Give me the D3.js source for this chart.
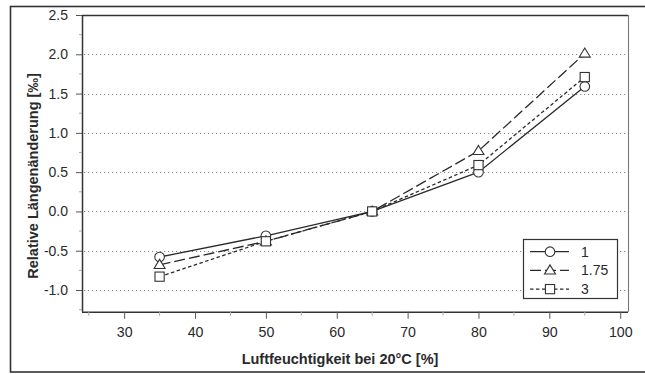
<!DOCTYPE html>
<html>
<head>
<meta charset="utf-8">
<script src="https://cdn.jsdelivr.net/npm/d3@7"></script>
<style>
  html, body { margin: 0; padding: 0; background: #fff; }
  svg { display: block; font-family: "Liberation Sans", Arial, sans-serif; }
</style>
</head>
<body>
<svg id="chart" width="645" height="374"></svg>
<script>
// Relative humidity at 20 °C [%]
const humidity = [35, 50, 65, 80, 95];

// Relative change in length [‰] per series
const series1 = [-0.58, -0.31, 0.0, 0.50, 1.59];
const series175 = [-0.68, -0.38, 0.0, 0.77, 2.01];
const series3 = [-0.83, -0.38, 0.0, 0.59, 1.71];

const seriesNames = ["1", "1.75", "3"];
const xTicks = [30, 40, 50, 60, 70, 80, 90, 100];
const yTicks = [-1.0, -0.5, 0.0, 0.5, 1.0, 1.5, 2.0, 2.5];
const yGrid = [-1.0, -0.5, 0.0, 0.5, 1.0, 1.5, 2.0];

const svg = d3.select("#chart");
const ink = "#2a2a2a";

// outer frame
svg.append("rect")
  .attr("x", 10.5).attr("y", 6.5)
  .attr("width", 660).attr("height", 365.5)
  .attr("fill", "none").attr("stroke", "#333").attr("stroke-width", 1.6);

const plot = { left: 82, right: 628, top: 15, bottom: 311.7 };

const x = d3.scaleLinear().domain([24.05, 101.1]).range([plot.left, plot.right]);
const y = d3.scaleLinear().domain([-1.276, 2.5]).range([plot.bottom, plot.top]);

// horizontal dotted grid
svg.append("g").selectAll("line").data(yGrid).join("line")
  .attr("x1", plot.left + 2).attr("x2", plot.right - 1)
  .attr("y1", d => Math.round(y(d)) + 0.5).attr("y2", d => Math.round(y(d)) + 0.5)
  .attr("stroke", "#888").attr("stroke-width", 1)
  .attr("stroke-dasharray", "1.2,2.8");

// plot border: top and right
svg.append("line")
  .attr("x1", plot.left).attr("x2", plot.right)
  .attr("y1", plot.top + 0.5).attr("y2", plot.top + 0.5)
  .attr("stroke", "#333").attr("stroke-width", 1.4);
svg.append("line")
  .attr("x1", plot.right + 0.5).attr("x2", plot.right + 0.5)
  .attr("y1", plot.top).attr("y2", plot.bottom)
  .attr("stroke", "#777").attr("stroke-width", 1.1);

// x axis
const xAxis = d3.axisBottom(x).tickValues(xTicks).tickSize(7).tickPadding(8)
  .tickFormat(d3.format("d"));
const gx = svg.append("g").attr("transform", `translate(0,${plot.bottom})`).call(xAxis);
gx.select(".domain").attr("stroke", "#333").attr("stroke-width", 1.5)
  .attr("d", `M${plot.left},0.5H${plot.right}`);
gx.selectAll(".tick line").attr("stroke", "#555").attr("stroke-width", 1);
gx.selectAll(".tick text").attr("fill", ink).attr("font-size", 14.2);

// x minor ticks
const xMinor = d3.range(25, 101, 10);
svg.append("g").selectAll("line").data(xMinor).join("line")
  .attr("x1", d => x(d)).attr("x2", d => x(d))
  .attr("y1", plot.bottom).attr("y2", plot.bottom + 4)
  .attr("stroke", "#aaa").attr("stroke-width", 1);

// y axis
const yAxis = d3.axisLeft(y).tickValues(yTicks).tickSize(6).tickPadding(8)
  .tickFormat(d3.format(".1f"));
const gy = svg.append("g").attr("transform", `translate(${plot.left},0)`).call(yAxis);
gy.select(".domain").attr("stroke", "#333").attr("stroke-width", 1.5)
  .attr("d", `M0.5,${plot.top}V${plot.bottom}`);
gy.selectAll(".tick line").attr("stroke", "#555").attr("stroke-width", 1);
gy.selectAll(".tick text").attr("fill", ink).attr("font-size", 14)
  .text(d => d < 0 ? "-" + Math.abs(d).toFixed(1) : d.toFixed(1));

// y minor ticks
const yMinor = d3.range(-1.25, 2.5, 0.5);
svg.append("g").selectAll("line").data(yMinor).join("line")
  .attr("x1", plot.left - 3).attr("x2", plot.left)
  .attr("y1", d => y(d)).attr("y2", d => y(d))
  .attr("stroke", "#aaa").attr("stroke-width", 1);

// axis titles
svg.append("text")
  .attr("x", 340).attr("y", 364)
  .attr("text-anchor", "middle").attr("font-size", 14.5).attr("font-weight", "bold")
  .attr("fill", ink)
  .text("Luftfeuchtigkeit bei 20°C [%]");
svg.append("text")
  .attr("transform", `translate(38,176) rotate(-90)`)
  .attr("text-anchor", "middle").attr("font-size", 14.5).attr("font-weight", "bold")
  .attr("fill", ink)
  .text("Relative Längenänderung [‰]");

// series definitions
const seriesData = [
  { name: seriesNames[0], values: series1, dash: null, marker: "circle" },
  { name: seriesNames[1], values: series175, dash: "11,4", marker: "triangle" },
  { name: seriesNames[2], values: series3, dash: "3.5,2.5", marker: "square" }
];

const line = d3.line().x(d => x(d[0])).y(d => y(d[1]));

function drawMarker(g, type, cx, cy) {
  if (type === "circle") {
    g.append("circle").attr("cx", cx).attr("cy", cy).attr("r", 4.8);
  } else if (type === "square") {
    g.append("rect").attr("x", cx - 4.6).attr("y", cy - 4.6)
      .attr("width", 9.2).attr("height", 9.2);
  } else {
    const h = 5.5;
    g.append("path").attr("d",
      `M${cx},${cy - h}L${cx + h},${cy + h * 0.65}L${cx - h},${cy + h * 0.65}Z`);
  }
}

seriesData.forEach(s => {
  const pts = humidity.map((h, i) => [h, s.values[i]]);
  svg.append("path")
    .attr("d", line(pts))
    .attr("fill", "none").attr("stroke", ink).attr("stroke-width", 1.3)
    .attr("stroke-dasharray", s.dash);
});

seriesData.forEach(s => {
  const g = svg.append("g").attr("fill", "#fff").attr("stroke", "#333").attr("stroke-width", 1.1);
  humidity.forEach((h, i) => drawMarker(g, s.marker, x(h), y(s.values[i])));
});

// legend
const lg = svg.append("g");
lg.append("rect")
  .attr("x", 523.5).attr("y", 239.5).attr("width", 94).attr("height", 59)
  .attr("fill", "#fff").attr("stroke", "#333").attr("stroke-width", 1.2);
seriesData.forEach((s, i) => {
  const ry = 251.7 + i * 18.7;
  lg.append("line")
    .attr("x1", 530).attr("x2", 569).attr("y1", ry).attr("y2", ry)
    .attr("stroke", ink).attr("stroke-width", 1.3).attr("stroke-dasharray", s.dash);
  const mg = lg.append("g").attr("fill", "#fff").attr("stroke", "#333").attr("stroke-width", 1.1);
  drawMarker(mg, s.marker, 550, ry);
  lg.append("text")
    .attr("x", 581).attr("y", ry + 5)
    .attr("font-size", 14).attr("fill", ink)
    .text(s.name);
});
</script>
</body>
</html>
